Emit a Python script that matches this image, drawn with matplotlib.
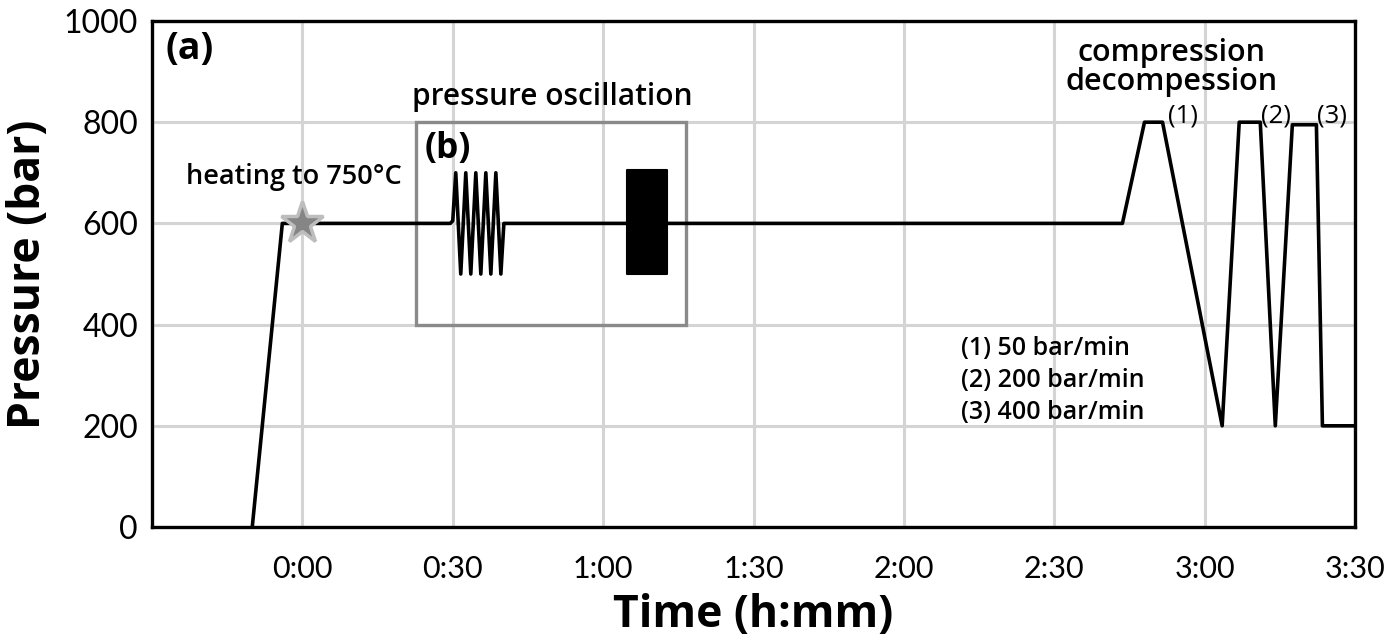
"""
Pressure history of the experiment: heating, oscillation, compression/decompression
"""
import matplotlib
matplotlib.use('Agg')
import matplotlib.pyplot as plt
from matplotlib.patches import Rectangle

# pressure trace (time in minutes from 0:00, pressure in bar)
trace_t = [-10, -4, 29.5, 30.0, 30.6, 31.6, 32.6, 33.6, 34.6, 35.6, 36.6, 37.6,
           38.6, 39.6, 40.2, 62.0, 64.8, 72.8, 163.6, 168.0, 171.6, 183.5,
           186.9, 191.1, 194.1, 197.5, 202.3, 203.5, 212]
trace_p = [0, 600, 600, 605, 700, 500, 700, 500, 700, 500, 700, 500,
           700, 500, 600, 600, 600, 600, 600, 800, 800, 200,
           800, 800, 200, 795, 795, 200, 200]

# fast oscillation block (too dense to resolve)
fast_t = [64.8, 72.8]
fast_lo = [500, 500]
fast_hi = [705, 705]

# star marking end of heating
star_t, star_p = 0, 600

# boxed region (b)
box_t = (22.7, 76.6)
box_p = (400, 800)

xticks = [0, 30, 60, 90, 120, 150, 180, 210]
xticklabels = ['0:00', '0:30', '1:00', '1:30', '2:00', '2:30', '3:00', '3:30']
yticks = [0, 200, 400, 600, 800, 1000]

rate_labels = ['(1) 50 bar/min', '(2) 200 bar/min', '(3) 400 bar/min']
rate_p = [352, 289, 226]
cycle_labels = ['(1)', '(2)', '(3)']
cycle_t = [175.7, 194.3, 205.5]

plt.rcParams['font.family'] = ['Lato', 'DejaVu Sans']
ann = ['Open Sans', 'DejaVu Sans']

fig = plt.figure(figsize=(13.97, 6.42), dpi=100)
ax = fig.add_axes([152 / 1397, 1 - 527 / 642, (1355 - 152) / 1397, (527 - 21) / 642])

ax.set_xlim(-30, 210)
ax.set_ylim(0, 1000)
ax.set_xticks(xticks)
ax.set_xticklabels(xticklabels)
ax.set_yticks(yticks)
ax.grid(True, color='#d4d4d4', linewidth=2.2)
ax.set_axisbelow(True)
ax.tick_params(length=0, labelsize=22)
ax.tick_params(axis='y', labelsize=23, pad=10)
ax.tick_params(axis='x', pad=20)

for s in ax.spines.values():
    s.set_linewidth(2.4)
    s.set_color('black')
    s.set_zorder(5)

ax.add_patch(Rectangle((box_t[0], box_p[0]), box_t[1] - box_t[0], box_p[1] - box_p[0],
                       fill=False, edgecolor='#8a8a8a', linewidth=2.4, zorder=2))

ax.plot(trace_t, trace_p, color='black', linewidth=2.6, solid_joinstyle='round', zorder=3)
ax.fill_between(fast_t, fast_lo, fast_hi, color='black', linewidth=1.5, zorder=3)
ax.plot(star_t, star_p, marker='*', markersize=32, color='#858585',
        markeredgecolor='#bdbdbd', markeredgewidth=2.5, zorder=4)

ax.set_xlabel('Time (h:mm)', fontsize=32, fontweight='bold', family=ann, labelpad=7)
ax.set_ylabel('Pressure (bar)', fontsize=32, fontweight='bold', family=ann, labelpad=9)

ax.text(-27.3, 945, '(a)', fontsize=27, fontweight='bold', family=ann,
        va='center', ha='left')
ax.text(49.9, 850, 'pressure oscillation', fontsize=21.5, fontweight='semibold',
        family=ann, va='center', ha='center')
ax.text(24.3, 748, '(b)', fontsize=25.5, fontweight='bold', family=ann,
        va='center', ha='left')
ax.text(-1.6, 692, 'heating to 750°C', fontsize=19.5, fontweight='semibold',
        family=ann, va='center', ha='center')
ax.text(173.3, 936, 'compression', fontsize=22, fontweight='semibold',
        family=ann, va='center', ha='center')
ax.text(173.5, 880, 'decompession', fontsize=22, fontweight='semibold',
        family=ann, va='center', ha='center')

for lab, t in zip(cycle_labels, cycle_t):
    ax.text(t, 813, lab, fontsize=18.5, family=ann, va='center', ha='center')
for lab, p in zip(rate_labels, rate_p):
    ax.text(131.3, p, lab, fontsize=18, fontweight='semibold', family=ann,
            va='center', ha='left')

fig.savefig('out.png', dpi=100, facecolor='white')
